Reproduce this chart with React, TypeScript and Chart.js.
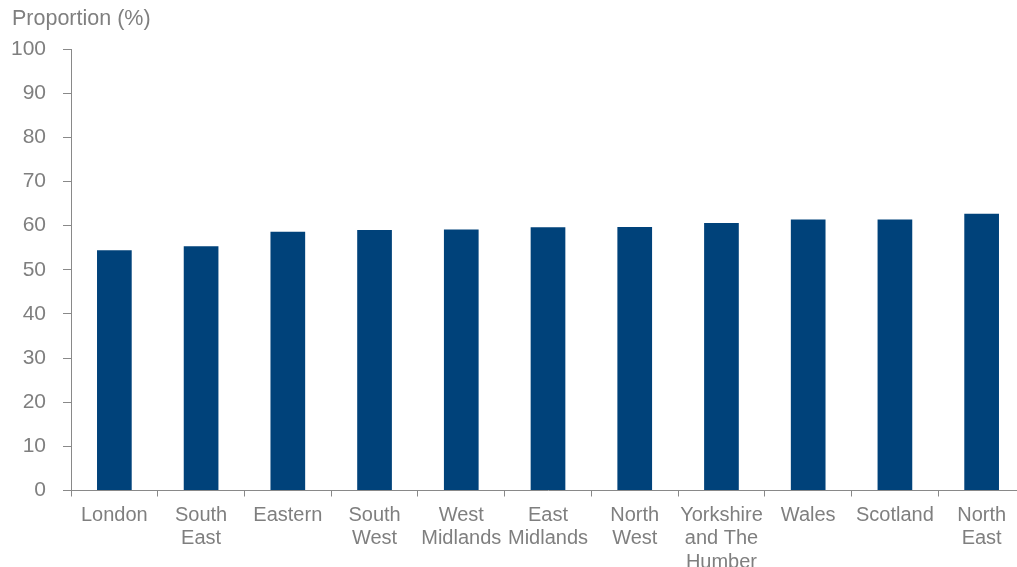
import React, { useEffect, useRef } from "react";
import { Chart, registerables } from "chart.js";

Chart.register(...registerables);

const regions: (string | string[])[] = [
  "London",
  ["South", "East"],
  "Eastern",
  ["South", "West"],
  ["West", "Midlands"],
  ["East", "Midlands"],
  ["North", "West"],
  ["Yorkshire", "and The", "Humber"],
  "Wales",
  "Scotland",
  ["North", "East"],
];

const proportions: number[] = [54.4, 55.3, 58.6, 59.0, 59.1, 59.6, 59.7, 60.6, 61.4, 61.4, 62.7];

const yTitle = "Proportion (%)";

const FONT = "'Liberation Sans', Arial, sans-serif";
const TEXT = "#7f7f7f";
const AXIS = "#898989";
const BAR = "#00427a";

const titlePlugin = {
  id: "topTitle",
  afterDraw(chart: any) {
    const ctx = chart.ctx;
    ctx.save();
    ctx.font = `21.5px ${FONT}`;
    ctx.fillStyle = TEXT;
    ctx.textAlign = "left";
    ctx.textBaseline = "middle";
    ctx.fillText(yTitle, 12, 19);
    ctx.restore();
  },
};

export default function App() {
  const ref = useRef<HTMLCanvasElement | null>(null);
  useEffect(() => {
    if (!ref.current) return;
    const chart = new Chart(ref.current, {
      type: "bar",
      data: {
        labels: regions as any,
        datasets: [
          {
            data: proportions,
            backgroundColor: BAR,
            borderWidth: 0,
            barPercentage: 0.8,
            categoryPercentage: 0.5,
          },
        ],
      },
      options: {
        responsive: false,
        animation: false,
        devicePixelRatio: 1,
        layout: { padding: { top: 49, right: 1, left: 0, bottom: 0 } },
        plugins: {
          legend: { display: false },
          tooltip: { enabled: false },
          title: { display: false },
        },
        scales: {
          x: {
            offset: true,
            grid: {
              display: true,
              drawOnChartArea: false,
              drawTicks: true,
              tickLength: 6,
              color: AXIS,
              offset: true,
            },
            border: { display: true, color: AXIS, width: 1 },
            ticks: {
              autoSkip: false,
              maxRotation: 0,
              minRotation: 0,
              padding: 7,
              color: TEXT,
              font: { family: FONT, size: 20, lineHeight: 1.17 },
            },
            afterFit(scale: any) {
              scale.height = 76.5;
            },
          },
          y: {
            min: 0,
            max: 100,
            ticks: {
              stepSize: 10,
              padding: 17,
              color: TEXT,
              font: { family: FONT, size: 21 },
            },
            grid: {
              display: true,
              drawOnChartArea: false,
              drawTicks: true,
              tickLength: 8,
              color: AXIS,
            },
            border: { display: true, color: AXIS, width: 1 },
            afterFit(scale: any) {
              scale.width = 71;
            },
          },
        },
      },
      plugins: [titlePlugin],
    });
    return () => chart.destroy();
  }, []);

  return (
    <div
      style={{
        position: "fixed",
        left: 0,
        top: 0,
        width: 1017,
        height: 567,
        overflow: "hidden",
        background: "#ffffff",
      }}
    >
      <canvas ref={ref} width={1026} height={567} style={{ display: "block", width: 1026, height: 567 }} />
    </div>
  );
}
